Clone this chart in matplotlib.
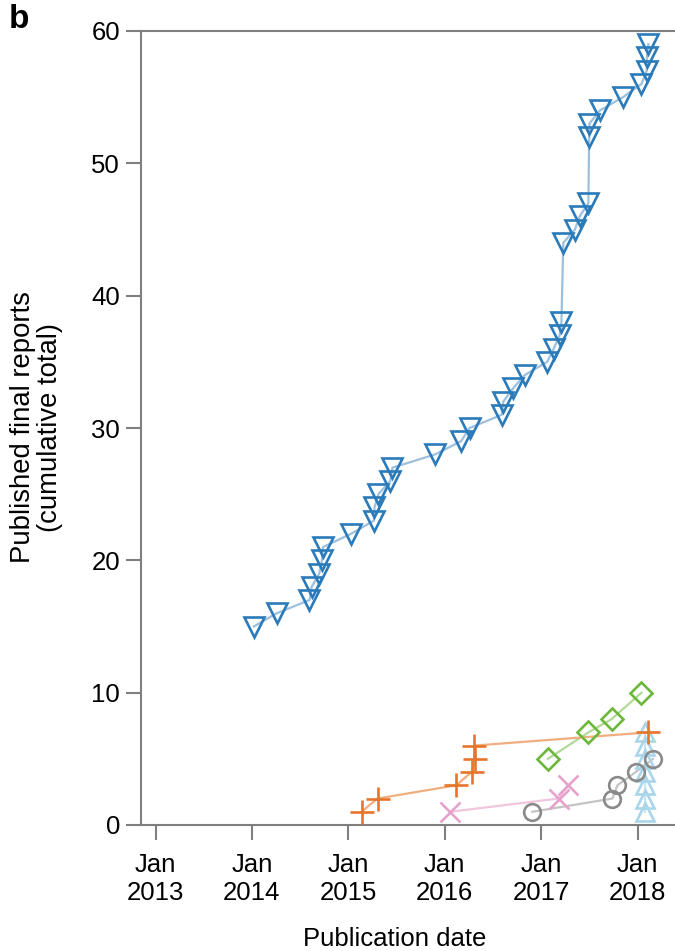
import pandas as pd
import matplotlib
matplotlib.use('Agg')
import matplotlib.pyplot as plt

plt.rcParams['font.family'] = ['Liberation Sans', 'DejaVu Sans']

# ---------------------------
# Data
# ---------------------------
blue_dates = ['2014-01-08', '2014-04-05', '2014-08-07', '2014-08-15', '2014-09-13',
              '2014-09-23', '2014-09-27', '2015-01-11', '2015-04-08', '2015-04-10',
              '2015-04-25', '2015-06-09', '2015-06-17', '2015-11-25', '2016-03-03',
              '2016-04-04', '2016-08-04', '2016-08-10', '2016-09-16', '2016-10-30',
              '2017-01-23', '2017-02-17', '2017-03-11', '2017-03-18', '2017-03-25',
              '2017-05-08', '2017-05-26', '2017-06-28', '2017-07-01', '2017-07-02',
              '2017-08-11', '2017-11-06', '2018-01-15', '2018-02-04', '2018-02-05',
              '2018-02-10']
blue_vals = [15, 16, 17, 18, 19, 20, 21, 22, 23, 24, 25, 26, 27, 28, 29, 30, 31, 32,
             33, 34, 35, 36, 37, 38, 44, 45, 46, 47, 52, 53, 54, 55, 56, 57, 58, 59]

orange_dates = ['2015-02-20', '2015-04-22', '2016-02-13', '2016-04-12', '2016-04-26',
                '2016-04-22', '2018-02-10']
orange_vals = [1, 2, 3, 4, 5, 6, 7]

green_dates = ['2017-01-26', '2017-06-28', '2017-09-24', '2018-01-15']
green_vals = [5, 7, 8, 10]

pink_dates = ['2016-01-22', '2017-03-07', '2017-04-12']
pink_vals = [1, 2, 3]

grey_dates = ['2016-11-28', '2017-09-27', '2017-10-16', '2017-12-24', '2018-02-28']
grey_vals = [1, 2, 3, 4, 5]

light_dates = ['2018-01-30'] * 7
light_vals = [1, 2, 3, 4, 5, 6, 7]

tick_years = [2013, 2014, 2015, 2016, 2017, 2018]

# (dates, values, marker, marker colour, line colour, marker size)
series = [
    (light_dates, light_vals, '^', '#a9d6ea', '#c9e5f1', 13),
    (grey_dates, grey_vals, 'o', '#8a8a8a', '#c4c4c4', 12),
    (pink_dates, pink_vals, 'x', '#e7a2cc', '#f0c6de', 14),
    (green_dates, green_vals, 'D', '#6cb83a', '#b3d99a', 11),
    (orange_dates, orange_vals, '+', '#e8742a', '#f0ae80', 17),
    (blue_dates, blue_vals, 'v', '#2b7bba', '#9cc0de', 14),
]

# ---------------------------
# Plot
# ---------------------------
fig = plt.figure(figsize=(6.75, 9.51), dpi=100)
ax = fig.add_axes([141 / 675, 1 - 825 / 951, 1 - 141 / 675, (825 - 31) / 951])

for dates, vals, marker, mcol, lcol, ms in series:
    d = pd.to_datetime(dates)
    ax.plot(d, vals, '-', color=lcol, lw=1.6, zorder=2)
    ax.plot(d, vals, linestyle='none', marker=marker, ms=ms, mfc='none',
            mec=mcol, mew=1.9, zorder=3)

ax.set_ylim(0, 60)
ax.set_yticks([0, 10, 20, 30, 40, 50, 60])
ax.set_xlim(pd.Timestamp('2012-11-07'), pd.Timestamp('2018-05-22'))
ax.set_xticks([pd.Timestamp(f'{y}-01-01') for y in tick_years])
ax.set_xticklabels([f'Jan\n{y}' for y in tick_years])

spine_col = '#7f7f7f'
for side in ['left', 'bottom', 'top']:
    ax.spines[side].set_color(spine_col)
    ax.spines[side].set_linewidth(1.5)
ax.spines['right'].set_visible(False)

ax.tick_params(axis='both', colors=spine_col, length=11, width=1.5,
               labelsize=18.5, labelcolor='black')
ax.tick_params(axis='x', pad=9)
ax.tick_params(axis='y', pad=4)

ax.set_ylabel('Published final reports\n(cumulative total)', fontsize=19.8,
              linespacing=1.05)
ax.yaxis.set_label_coords(-0.146, 0.501)
ax.set_xlabel('Publication date', fontsize=18.5)
ax.xaxis.set_label_coords(0.476, -0.128)

fig.text(9 / 675, 1 - 20 / 951, 'b', fontsize=24, fontweight='bold', va='center')

fig.savefig('out.png', dpi=100)
plt.close(fig)
